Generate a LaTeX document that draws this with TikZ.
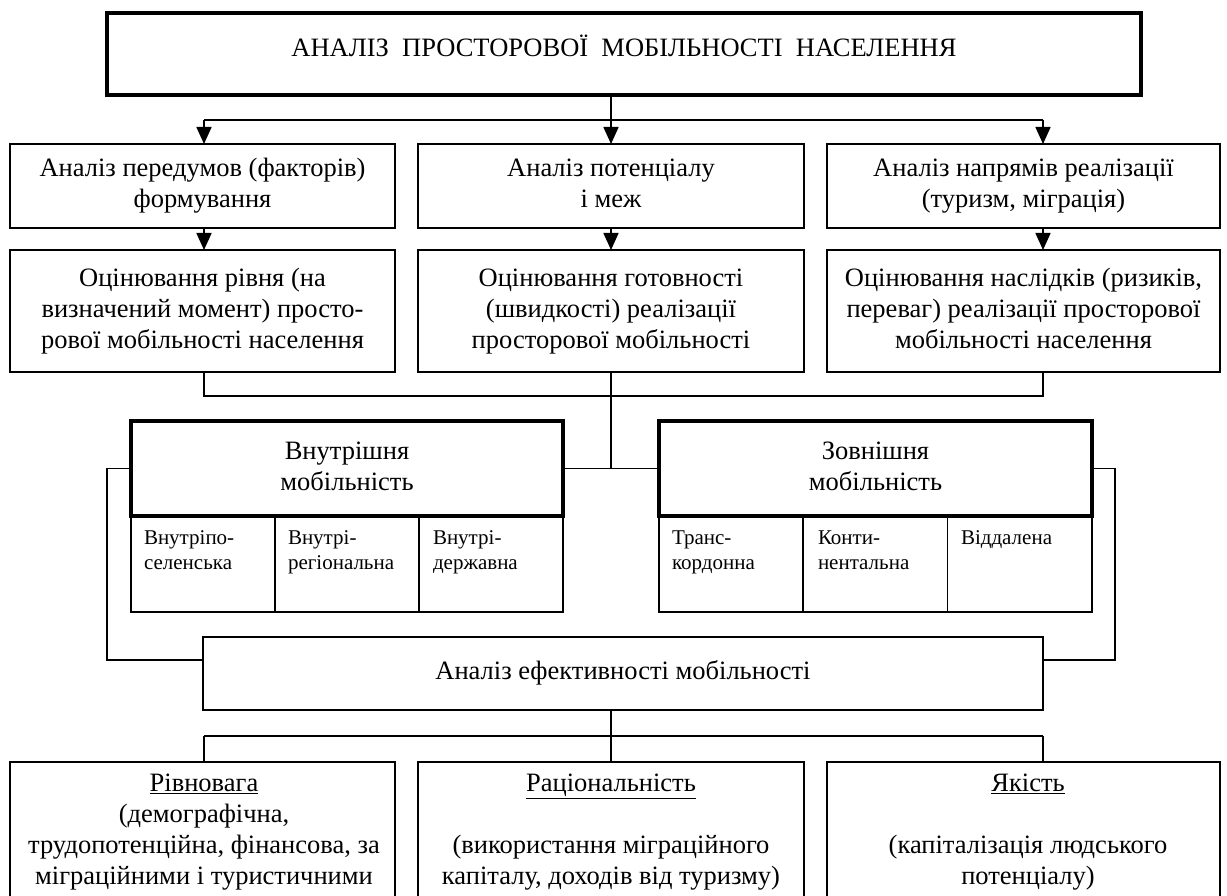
\documentclass[tikz,border=0pt]{standalone}
\usepackage{fontspec}
\setmainfont{Liberation Serif}
\usetikzlibrary{arrows.meta}
\begin{document}
\begin{tikzpicture}[x=1pt,y=-1pt,
  every node/.style={inner sep=0pt, outer sep=0pt},
  txt/.style={font=\fontsize{26.5}{31}\selectfont, align=center},
  box/.style={draw, line width=1.6pt, txt},
  hbox/.style={draw, line width=3.6pt, txt},
  sbox/.style={draw, line width=1.6pt},
  stxt/.style={font=\fontsize{21}{25}\selectfont, align=left, anchor=north west},
  conn/.style={line width=1.6pt},
  arr/.style={conn, -{Triangle[width=15pt,length=17pt]}},
]
\useasboundingbox (0,0) rectangle (1227,896);

% title
\node[hbox, minimum width=1034, minimum height=82] (title) at (624,54) {};
\node[txt] (titlet) at (624,46) {АНАЛІЗ\ \ ПРОСТОРОВОЇ\ \ МОБІЛЬНОСТІ\ \ НАСЕЛЕННЯ};

% row 1
\node[box, minimum width=385, minimum height=84] (a1) at (202.5,186) {\strut Аналіз передумов (факторів)\\формування\strut};
\node[box, minimum width=386, minimum height=84] (a2) at (611,186) {\strut Аналіз потенціалу\\і меж\strut};
\node[box, minimum width=393, minimum height=84] (a3) at (1023.5,186) {\strut Аналіз напрямів реалізації\\(туризм, міграція)\strut};

% row 2
\node[box, minimum width=385, minimum height=122] (b1) at (202.5,311) {\strut Оцінювання рівня (на\\визначений момент) просто-\\рової мобільності населення\strut};
\node[box, minimum width=386, minimum height=122] (b2) at (611,311) {\strut Оцінювання готовності\\(швидкості) реалізації\\просторової мобільності\strut};
\node[box, minimum width=393, minimum height=122] (b3) at (1023.5,311) {\strut Оцінювання наслідків (ризиків,\\переваг) реалізації просторової\\мобільності населення\strut};

% internal / external
\node[hbox, minimum width=432, minimum height=95] (vn) at (347,468.5) {\strut Внутрішня\\мобільність\strut};
\node[sbox, minimum width=144, minimum height=96] (v1) at (203,564) {};
\node[sbox, minimum width=144, minimum height=96] (v2) at (347,564) {};
\node[sbox, minimum width=144, minimum height=96] (v3) at (491,564) {};
\node[stxt] (v1t) at (144,531) {Внутріпо-\\селенська};
\node[stxt] (v2t) at (288,531) {Внутрі-\\регіональна};
\node[stxt] (v3t) at (433,531) {Внутрі-\\державна};

\node[hbox, minimum width=433, minimum height=95] (zv) at (875.5,468.5) {\strut Зовнішня\\мобільність\strut};
\node[sbox, minimum width=144, minimum height=96] (z1) at (731,564) {};
\node[sbox, minimum width=144.5, minimum height=96] (z2) at (875.25,564) {};
\node[sbox, minimum width=144.5, minimum height=96] (z3) at (1019.75,564) {};
\node[stxt] (z1t) at (672,531) {Транс-\\кордонна};
\node[stxt] (z2t) at (818,531) {Конти-\\нентальна};
\node[stxt] (z3t) at (961,531) {Віддалена};

% efficiency
\node[box, minimum width=840, minimum height=73] (eff) at (623,673.5) {\strut Аналіз ефективності мобільності};

% bottom row
\node[sbox, minimum width=385, minimum height=160] (c1) at (202.5,842) {};
\node[sbox, minimum width=386, minimum height=160] (c2) at (611,842) {};
\node[sbox, minimum width=393, minimum height=160] (c3) at (1023.5,842) {};
\node[txt, anchor=north] (c1t) at (204,774) {\underline{Рівновага}\\(демографічна,\\трудопотенційна, фінансова, за\\міграційними і туристичними};
\node[txt, anchor=north] (c2t) at (611,774) {\underline{Раціональність}\\[31pt](використання міграційного\\капіталу, доходів від туризму)};
\node[txt, anchor=north] (c3t) at (1028,774) {\underline{Якість}\\[31pt](капіталізація людського\\потенціалу)};

% connectors top
\coordinate (t1) at (204,120);
\coordinate (t3) at (1043,120);
\draw[arr] (title.south -| a2.north) -- (a2.north);
\draw[conn] (t1) -- (t3);
\draw[arr] (t1) -- (t1 |- a1.north);
\draw[arr] (t3) -- (t3 |- a3.north);

\draw[arr] (a1.south -| t1) -- (b1.north -| t1);
\draw[arr] (a2.south) -- (b2.north);
\draw[arr] (a3.south -| t3) -- (b3.north -| t3);

% join
\coordinate (j1) at (204,396);
\coordinate (j3) at (1043,396);
\draw[conn] (b1.south -| j1) -- (j1) -- (j3) -- (b3.south -| j3);
\draw[conn] (b2.south) -- (b2.south |- vn.east);
\draw[conn] (vn.east) -- (zv.west);

% loops
\coordinate (lpL) at (107,660);
\coordinate (lpR) at (1115,660);
\draw[conn] (vn.west) -| (lpL) -- (eff.west |- lpL);
\draw[conn] (zv.east) -| (lpR) -- (eff.east |- lpR);

% lower connectors
\coordinate (k1) at (204,736);
\coordinate (k3) at (1043,736);
\draw[conn] (eff.south -| a2.north) -- (a2.north |- k1);
\draw[conn] (k1) -- (k3);
\draw[conn] (k1) -- (k1 |- c1.north);
\draw[conn] (a2.north |- k1) -- (c2.north);
\draw[conn] (k3) -- (k3 |- c3.north);
\end{tikzpicture}
\end{document}
